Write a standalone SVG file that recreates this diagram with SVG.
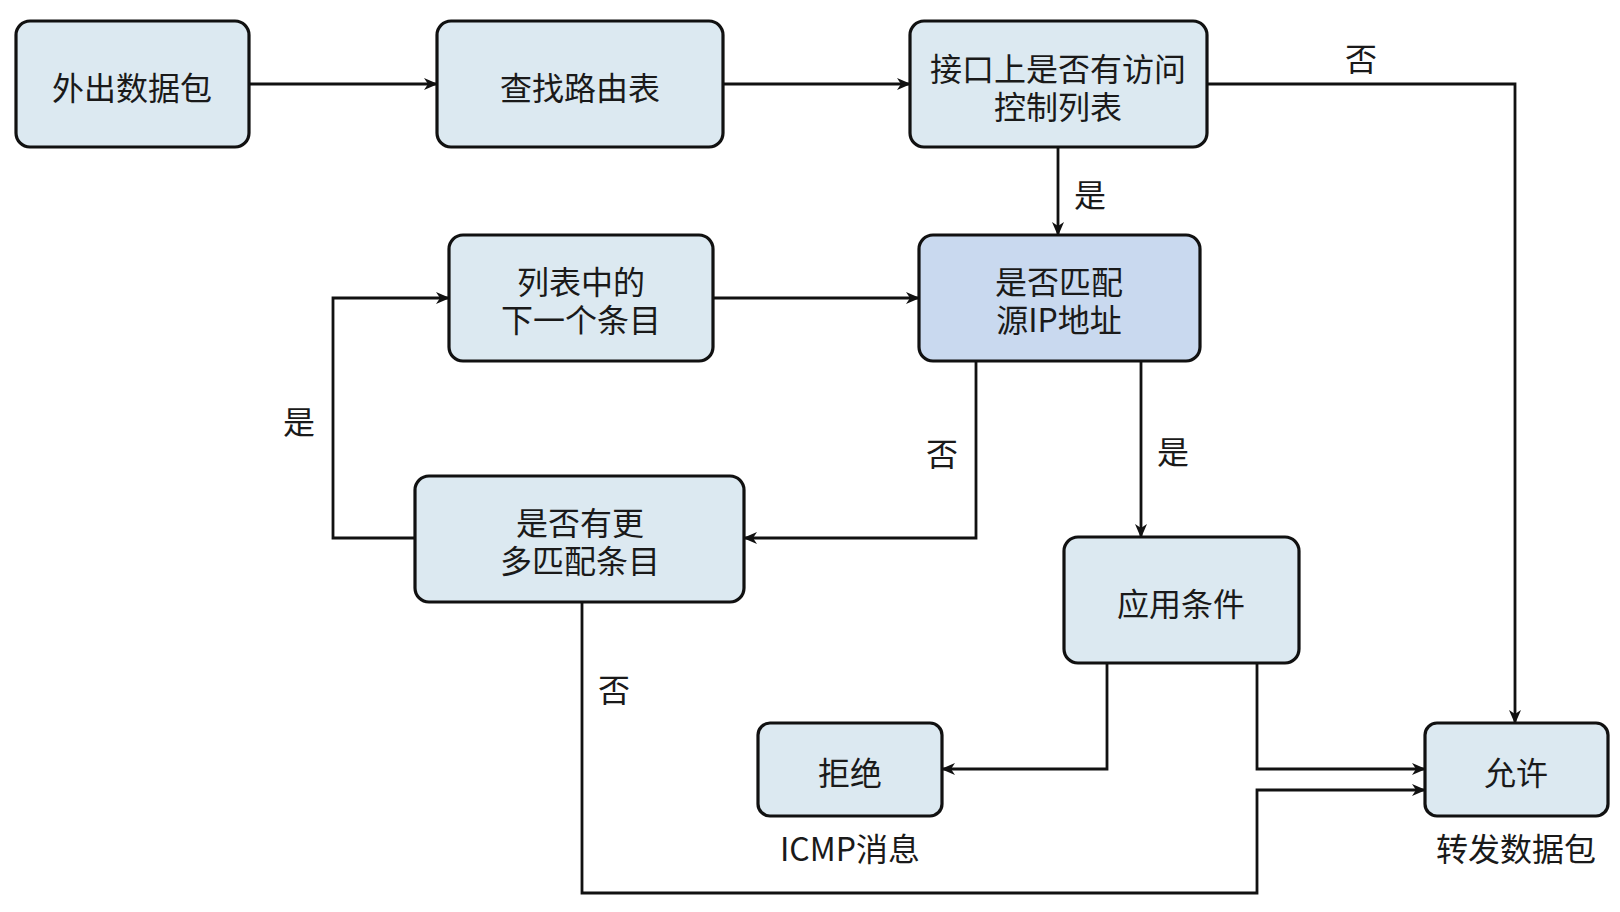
<svg xmlns="http://www.w3.org/2000/svg" width="1620" height="912" viewBox="0 0 1620 912">
<defs>
<style>
.n{fill:#dce9f1;stroke:#111;stroke-width:3.2}
.m{fill:#c9d9ef;stroke:#111;stroke-width:3.2}
.t{font-family:"Noto Sans CJK SC","Noto Sans",sans-serif;font-size:32px;fill:#1a1a1a;text-anchor:middle;dominant-baseline:central}
.c{fill:none;stroke:#111;stroke-width:2.8}
</style>
<marker id="a" viewBox="0 0 14 12" refX="13" refY="6" markerWidth="14" markerHeight="12" markerUnits="userSpaceOnUse" orient="auto">
<path d="M0,0 L14,6 L0,12 L4,6 z" fill="#111"/>
</marker>
</defs>
<rect width="1620" height="912" fill="#fff"/>
<g id="connectors">
<path class="c" d="M249,84 H437" marker-end="url(#a)"/>
<path class="c" d="M723,84 H910" marker-end="url(#a)"/>
<path class="c" d="M1207,84 H1515 V723" marker-end="url(#a)"/>
<path class="c" d="M1058,147 V235" marker-end="url(#a)"/>
<path class="c" d="M713,298 H919" marker-end="url(#a)"/>
<path class="c" d="M976,361 V538 H744" marker-end="url(#a)"/>
<path class="c" d="M1141,361 V537" marker-end="url(#a)"/>
<path class="c" d="M415,538 H333 V298 H449" marker-end="url(#a)"/>
<path class="c" d="M582,602 V893 H1257 V790 H1425" marker-end="url(#a)"/>
<path class="c" d="M1107,663 V769 H942" marker-end="url(#a)"/>
<path class="c" d="M1257,663 V769 H1425" marker-end="url(#a)"/>
<text class="t" x="1361" y="57">否</text>
<text class="t" x="1090" y="193">是</text>
<text class="t" x="942" y="452">否</text>
<text class="t" x="1173" y="450">是</text>
<text class="t" x="299" y="420">是</text>
<text class="t" x="614" y="688">否</text>
</g>
<g id="n1"><rect class="n" x="16" y="21" width="233" height="126" rx="14"/><text class="t" x="132" y="86">外出数据包</text></g>
<g id="n2"><rect class="n" x="437" y="21" width="286" height="126" rx="14"/><text class="t" x="580" y="86">查找路由表</text></g>
<g id="n3"><rect class="n" x="910" y="21" width="297" height="126" rx="14"/><text class="t" x="1058" y="67"><tspan x="1058">接口上是否有访问</tspan><tspan x="1058" dy="38">控制列表</tspan></text></g>
<g id="n4"><rect class="n" x="449" y="235" width="264" height="126" rx="14"/><text class="t" x="581" y="280"><tspan x="581">列表中的</tspan><tspan x="581" dy="38">下一个条目</tspan></text></g>
<g id="n5"><rect class="m" x="919" y="235" width="281" height="126" rx="14"/><text class="t" x="1059" y="280"><tspan x="1059">是否匹配</tspan><tspan x="1059" dy="38">源IP地址</tspan></text></g>
<g id="n6"><rect class="n" x="415" y="476" width="329" height="126" rx="14"/><text class="t" x="580" y="521"><tspan x="580">是否有更</tspan><tspan x="580" dy="38">多匹配条目</tspan></text></g>
<g id="n7"><rect class="n" x="1064" y="537" width="235" height="126" rx="14"/><text class="t" x="1181" y="602">应用条件</text></g>
<g id="n8"><rect class="n" x="758" y="723" width="184" height="93" rx="12"/><text class="t" x="850" y="771">拒绝</text><text class="t" x="850" y="847">ICMP消息</text></g>
<g id="n9"><rect class="n" x="1425" y="723" width="183" height="93" rx="12"/><text class="t" x="1516" y="771">允许</text><text class="t" x="1516" y="847">转发数据包</text></g>
</svg>
